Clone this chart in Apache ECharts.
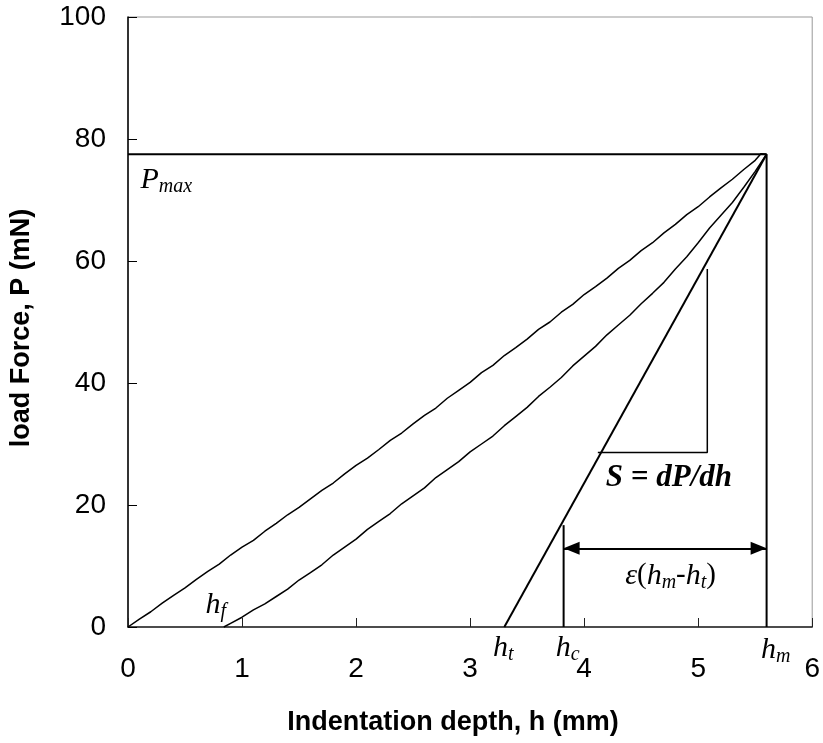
<!DOCTYPE html>
<html><head><meta charset="utf-8">
<script src="https://cdn.jsdelivr.net/npm/echarts@6/dist/echarts.min.js"></script>
<style>html,body{margin:0;padding:0;background:#fff}#c{width:823px;height:743px}</style>
</head><body><div id="c"></div>
<script>
// ---- data ----
const loadH = [0,0.1,0.2,0.3,0.4,0.5,0.6,0.7,0.8,0.9,1.0,1.1,1.2,1.3,1.4,1.5,1.6,1.7,1.8,1.9,2.0,2.1,2.2,2.3,2.4,2.5,2.6,2.7,2.8,2.9,3.0,3.1,3.2,3.3,3.4,3.5,3.6,3.7,3.8,3.9,4.0,4.1,4.2,4.3,4.4,4.5,4.6,4.7,4.8,4.9,5.0,5.1,5.2,5.3,5.4,5.5,5.55,5.6];
const loadP = [0,1.3,2.5,3.9,5.2,6.4,7.8,9.1,10.3,11.8,13.1,14.2,15.7,17.0,18.4,19.6,21.0,22.4,23.6,25.1,26.5,27.7,29.1,30.6,31.8,33.3,34.7,35.9,37.5,38.8,40.1,41.7,42.9,44.5,45.8,47.2,48.8,50.0,51.6,52.9,54.5,55.8,57.2,58.8,60.1,61.7,63.0,64.6,66.0,67.6,68.9,70.5,72.0,73.4,75.0,76.5,77.6,77.5];
const unloadH = [0.84,0.9,1.0,1.1,1.2,1.3,1.4,1.5,1.6,1.7,1.8,1.9,2.0,2.1,2.2,2.3,2.4,2.5,2.6,2.7,2.8,2.9,3.0,3.1,3.2,3.3,3.4,3.5,3.6,3.7,3.8,3.9,4.0,4.1,4.2,4.3,4.4,4.5,4.6,4.7,4.8,4.9,5.0,5.1,5.2,5.3,5.4,5.5,5.6];
const unloadP = [0,0.6,1.6,2.8,3.8,5.0,6.2,7.7,8.9,10.2,11.8,13.1,14.4,16.0,17.3,18.6,20.2,21.5,22.8,24.5,25.8,27.1,28.7,30.0,31.3,33.0,34.5,36.0,37.8,39.3,40.9,42.8,44.4,46.0,47.9,49.5,51.1,53.0,54.7,56.5,58.7,60.7,63.0,65.4,67.5,69.6,72.1,74.7,77.5];
const xTicks = [0,1,2,3,4,5,6];
const yTicks = [0,20,40,60,80,100];
// key values of the construction
const pMax = 77.5;
const hM = 5.6;
const hT = 3.3;
const hC = 3.82;
const hF = 0.84;
const hcTopP = 16.7;
const arrowP = 12.9;
const slopeH = [4.12, 5.08, 5.08];
const slopeP = [28.6, 28.6, 58.7];
// label anchors [h, P]
const labPmax = [0.11, 73.3];
const labHf = [0.68, 3.6];
const labHt = [3.2, -3.4];
const labHc = [3.75, -3.4];
const labHm = [5.55, -3.8];
const labS = [4.19, 24.4];
const labEps = [4.36, 8.4];

const zip = (a, b) => a.map((v, i) => [v, b[i]]);
const serif = 'Liberation Serif';
const sans = 'Liberation Sans';
const rich = {
  i: {fontFamily: serif, fontStyle: 'italic', fontSize: 30, color: '#000', lineHeight: 34, verticalAlign: 'middle'},
  s: {fontFamily: serif, fontStyle: 'italic', fontSize: 20, color: '#000', lineHeight: 20, verticalAlign: 'bottom'},
  b: {fontFamily: serif, fontStyle: 'italic', fontWeight: 'bold', fontSize: 31, color: '#000'},
  n: {fontFamily: serif, fontSize: 29, color: '#000', lineHeight: 34, verticalAlign: 'middle'}
};
function labelSeries(pt, text) {
  return {
    type: 'scatter', data: [pt], symbolSize: 0, clip: false, silent: true, z: 5,
    itemStyle: {opacity: 1},
    label: {show: true, position: 'right', distance: 0, color: '#000', opacity: 1, formatter: text, rich: rich}
  };
}
function lineSeries(data, w) {
  return {type: 'line', data: data, symbol: 'none', silent: true, clip: false,
    lineStyle: {color: '#000', width: w}};
}
// arrow head whose tip sits at the symbol centre
const head = 'path://M6,0 L6,0 M0,40 L6,20 L12,40 Z';

const chart = echarts.init(document.getElementById('c'));
chart.setOption({
  animation: false,
  backgroundColor: '#fff',
  grid: {left: 128, right: 9, top: 17, bottom: 116, show: true, borderColor: '#999', borderWidth: 1},
  xAxis: {
    type: 'value', min: xTicks[0], max: xTicks[xTicks.length - 1], interval: 1,
    axisLine: {lineStyle: {color: '#222', width: 1.5}},
    axisTick: {inside: true, length: 9, lineStyle: {color: '#222'}},
    axisLabel: {color: '#000', fontFamily: sans, fontSize: 28, margin: 28},
    splitLine: {show: false}
  },
  yAxis: {
    type: 'value', min: yTicks[0], max: yTicks[yTicks.length - 1], interval: 20,
    axisLine: {show: true, lineStyle: {color: '#000', width: 1.5}},
    axisTick: {show: true, inside: true, length: 9, lineStyle: {color: '#000'}},
    axisLabel: {color: '#000', fontFamily: sans, fontSize: 28, margin: 22},
    splitLine: {show: false}
  },
  graphic: [
    {type: 'text', x: 453, y: 723, style: {text: 'Indentation depth, h (mm)', font: 'bold 27px "Liberation Sans"', fill: '#000', textAlign: 'center', textVerticalAlign: 'middle'}},
    {type: 'text', x: 22, y: 328, rotation: Math.PI / 2, style: {text: 'load Force, P (mN)', font: 'bold 27px "Liberation Sans"', fill: '#000', textAlign: 'center', textVerticalAlign: 'middle'}}
  ],
  series: [
    lineSeries(zip(loadH, loadP), 1.5),
    lineSeries(zip(unloadH, unloadP), 1.5),
    lineSeries([[0, pMax], [hM, pMax]], 2),
    lineSeries([[hM, 0], [hM, pMax]], 2),
    lineSeries([[hT, 0], [hM, pMax]], 2),
    Object.assign(lineSeries([[hC, 0], [hC, hcTopP]], 2), {
      markLine: {
        silent: true, symbol: [head, head], symbolSize: [13, 32],
        label: {show: false},
        lineStyle: {color: '#000', width: 2, type: 'solid'},
        data: [[{coord: [hC, arrowP]}, {coord: [hM, arrowP]}]]
      }
    }),
    lineSeries(zip(slopeH, slopeP), 1.5),
    labelSeries(labPmax, '{i|P}{s|max}'),
    labelSeries(labHf, '{i|h}{s|f}'),
    labelSeries(labHt, '{i|h}{s|t}'),
    labelSeries(labHc, '{i|h}{s|c}'),
    labelSeries(labHm, '{i|h}{s|m}'),
    labelSeries(labS, '{b|S = dP/dh}'),
    labelSeries(labEps, '{i|ε}{n|(}{i|h}{s|m}{n|-}{i|h}{s|t}{n|)}')
  ]
});
</script></body></html>
